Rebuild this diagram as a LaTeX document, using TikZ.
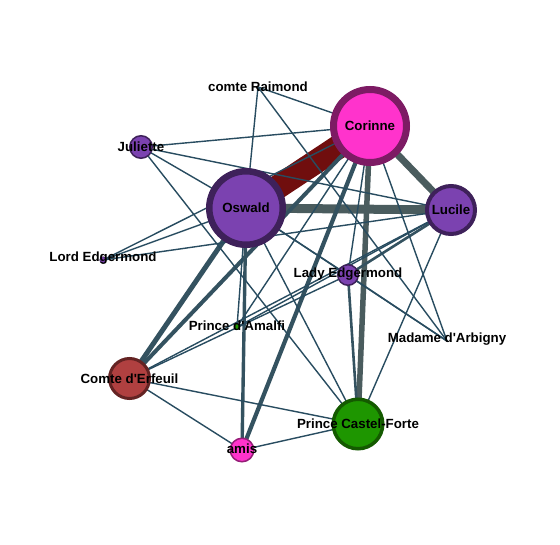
\documentclass[tikz,border=0pt]{standalone}
\usepackage{fontspec}
\setmainfont{Liberation Sans}
\pgfdeclarelayer{bg}
\pgfdeclarelayer{edgesthick}
\pgfdeclarelayer{edgesthin}
\pgfdeclarelayer{labels}
\pgfsetlayers{bg,edgesthick,edgesthin,main,labels}
\definecolor{ethin}{RGB}{40,76,96}
\definecolor{emid}{RGB}{52,82,96}
\definecolor{ethick}{RGB}{74,92,94}
\definecolor{ered}{RGB}{112,14,14}
\definecolor{pinkf}{RGB}{255,51,204}
\definecolor{pinkd}{RGB}{125,27,100}
\definecolor{pinkb}{RGB}{150,30,120}
\definecolor{purf}{RGB}{123,66,176}
\definecolor{purd}{RGB}{62,33,90}
\definecolor{redf}{RGB}{176,64,64}
\definecolor{redd}{RGB}{100,35,35}
\definecolor{grnf}{RGB}{30,150,0}
\definecolor{grnd}{RGB}{20,90,0}
\tikzset{
  vert/.style={circle,inner sep=0pt,outer sep=0pt},
  lab/.style={inner sep=0pt,font=\fontsize{13.3}{15}\selectfont\bfseries,text=black},
  thinedge/.style={draw=ethin,line width=1.4pt},
  midedge/.style={draw=emid,line width=2.6pt},
  heavyedge/.style={draw=emid},
  grayedge/.style={draw=ethick},
  bigedge/.style={draw=ered,line width=24pt},
}
\begin{document}
\begin{tikzpicture}[x=1pt,y=-1pt]
\begin{pgfonlayer}{bg}
\path[use as bounding box,fill=white] (0,0) rectangle (560,544);
\end{pgfonlayer}
% vertices
\node[vert,minimum size=1pt] (R) at (258,87) {};
\node[vert,minimum size=1pt] (MA) at (447,341) {};
\node[vert,minimum size=73pt,line width=7pt,draw=pinkd,fill=pinkf] (C) at (370,126) {};
\node[vert,minimum size=73.5pt,line width=6.5pt,draw=purd,fill=purf] (O) at (246,208) {};
\node[vert,minimum size=48pt,line width=4pt,draw=purd,fill=purf] (L) at (451,210) {};
\node[vert,minimum size=22.5pt,line width=1.5pt,draw=purd,fill=purf] (J) at (141,147) {};
\node[vert,minimum size=6.5pt,line width=0.6pt,draw=purd,fill=purf] (LE) at (103,260) {};
\node[vert,minimum size=20.5pt,line width=1.5pt,draw=purd,fill=purf] (LaE) at (348,275) {};
\node[vert,minimum size=5.5pt,line width=0.6pt,draw=grnd,fill=grnf] (PA) at (237,327) {};
\node[vert,minimum size=40pt,line width=3pt,draw=redd,fill=redf] (CE) at (129.5,378.5) {};
\node[vert,minimum size=49.5pt,line width=3.5pt,draw=grnd,fill=grnf] (PC) at (358,424) {};
\node[vert,minimum size=23.5pt,line width=1.5pt,draw=pinkb,fill=pinkf] (A) at (242,450) {};
% heavy edges
\begin{pgfonlayer}{edgesthick}
\draw[bigedge] (C.center) -- (O.center);
\draw[grayedge,line width=9pt] (O.center) -- (L.center);
\draw[grayedge,line width=7pt] (C.center) -- (L.center);
\draw[grayedge,line width=5.5pt] (C.center) -- (PC.center);
\draw[heavyedge,line width=5pt] (O.center) -- (CE.center);
\draw[heavyedge,line width=4pt] (C.center) -- (CE.center);
\draw[heavyedge,line width=4.2pt] (C.center) -- (A.center);
\draw[heavyedge,line width=3.4pt] (O.center) -- (A.center);
\end{pgfonlayer}
% light edges
\begin{pgfonlayer}{edgesthin}
\draw[midedge] (L.center) -- (LaE.center);
\draw[midedge] (LaE.center) -- (PC.center);
\draw[thinedge] (R.center) -- (C.center);
\draw[thinedge] (R.center) -- (O.center);
\draw[thinedge] (R.center) -- (MA.center);
\draw[thinedge] (J.center) -- (C.center);
\draw[thinedge] (J.center) -- (O.center);
\draw[thinedge] (J.center) -- (L.center);
\draw[thinedge] (J.center) -- (PC.center);
\draw[thinedge] (LE.center) -- (C.center);
\draw[thinedge] (LE.center) -- (O.center);
\draw[thinedge] (LE.center) -- (L.center);
\draw[thinedge] (CE.center) -- (A.center);
\draw[thinedge] (CE.center) -- (PC.center);
\draw[thinedge] (CE.center) -- (L.center);
\draw[thinedge] (CE.center) -- (LaE.center);
\draw[thinedge] (A.center) -- (PC.center);
\draw[thinedge] (C.center) -- (MA.center);
\draw[thinedge] (LaE.center) -- (MA.center);
\draw[thinedge] (O.center) -- (PC.center);
\draw[thinedge] (L.center) -- (PC.center);
\draw[thinedge] (C.center) -- (LaE.center);
\draw[thinedge] (O.center) -- (LaE.center);
\draw[thinedge] (C.center) -- (PA.center);
\draw[thinedge] (O.center) -- (PA.center);
\draw[thinedge] (L.center) -- (PA.center);
\draw[thinedge] (O.center) -- (MA.center);
\end{pgfonlayer}
% labels
\begin{pgfonlayer}{labels}
\node[lab] (lR) at (R.center) {comte Raimond};
\node[lab] (lC) at (C.center) {Corinne};
\node[lab] (lJ) at (J.center) {Juliette};
\node[lab] (lO) at (O.center) {Oswald};
\node[lab] (lL) at (L.center) {Lucile};
\node[lab] (lLE) at ([yshift=2pt]LE.center) {Lord Edgermond};
\node[lab] (lLaE) at ([yshift=1pt]LaE.center) {Lady Edgermond};
\node[lab] (lPA) at ([yshift=1pt]PA.center) {Prince d\textquotesingle Amalfi};
\node[lab] (lMA) at ([yshift=2pt]MA.center) {Madame d\textquotesingle Arbigny};
\node[lab] (lCE) at (CE.center) {Comte d\textquotesingle Erfeuil};
\node[lab] (lPC) at (PC.center) {Prince Castel-Forte};
\node[lab] (lA) at ([yshift=1pt]A.center) {amis};
\end{pgfonlayer}
\end{tikzpicture}
\end{document}
